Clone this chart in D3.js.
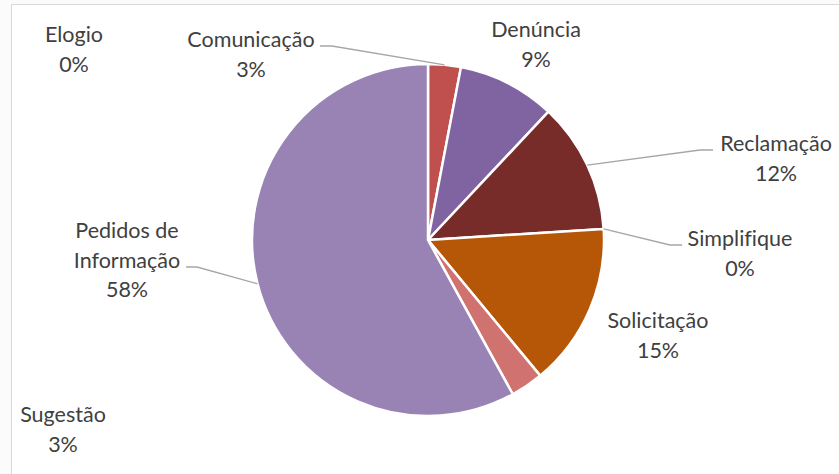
<!DOCTYPE html>
<html>
<head>
<meta charset="utf-8">
<script src="https://cdn.jsdelivr.net/npm/d3@7"></script>
<style>
  html, body { margin: 0; padding: 0; background: #ffffff; }
  svg { display: block; }
  text { font-variant-ligatures: none; }
</style>
</head>
<body>
<svg id="chart" width="839" height="474"></svg>
<script>
// Manifestações por tipo (%)
const categories = ["Elogio", "Comunicação", "Denúncia", "Reclamação", "Simplifique", "Solicitação", "Sugestão", "Pedidos de Informação"];
const values = [0, 3, 9, 12, 0, 15, 3, 58];
const colors = ["#4F81BD", "#C0504D", "#8064A2", "#772C2A", "#9BBB59", "#B65708", "#D07370", "#9983B5"];

// Label placement: text anchor, line breaks, and optional leader elbow
const labelLayout = {
  "Elogio":                { x: 74,  y: 42,  lines: ["Elogio"] },
  "Comunicação":           { x: 251, y: 47,  lines: ["Comunicação"], elbow: [332, 46], end: [320, 46] },
  "Denúncia":              { x: 536, y: 37,  lines: ["Denúncia"] },
  "Reclamação":            { x: 776, y: 151, lines: ["Reclamação"], elbow: [700, 150], end: [713, 150] },
  "Simplifique":           { x: 740, y: 246, lines: ["Simplifique"], elbow: [670, 245], end: [682, 245] },
  "Solicitação":           { x: 658, y: 328, lines: ["Solicitação"] },
  "Sugestão":              { x: 63,  y: 422, lines: ["Sugestão"] },
  "Pedidos de Informação": { x: 127, y: 238, lines: ["Pedidos de", "Informação"], elbow: [197, 267], end: [186, 267] }
};

const data = categories.map((c, i) => ({ name: c, value: values[i], color: colors[i] }));

const svg = d3.select("#chart");
const cx = 428, cy = 240, radius = 176;
const lineH = 29.5;

// Chart frame
svg.append("rect").attr("x", 0).attr("y", 0).attr("width", 839).attr("height", 474).attr("fill", "#fbfbfb");
svg.append("rect").attr("x", 11.5).attr("y", 4.5).attr("width", 840).attr("height", 480)
  .attr("fill", "#ffffff").attr("stroke", "#d9d9d9").attr("stroke-width", 1);

const pie = d3.pie().sort(null).value(d => d.value);
const arcs = pie(data);
const arc = d3.arc().innerRadius(0).outerRadius(radius);

const g = svg.append("g").attr("transform", `translate(${cx},${cy})`);
g.selectAll("path.slice")
  .data(arcs.filter(a => a.data.value > 0))
  .join("path")
  .attr("class", "slice")
  .attr("d", arc)
  .attr("fill", d => d.data.color)
  .attr("stroke", "#ffffff")
  .attr("stroke-width", 2.5)
  .attr("stroke-linejoin", "round");

// Leader lines from the slice's outer edge
const edge = d3.arc().innerRadius(radius).outerRadius(radius);
arcs.forEach(a => {
  const L = labelLayout[a.data.name];
  if (!L.elbow) return;
  const p = edge.centroid(a);
  const pts = [[cx + p[0], cy + p[1]], L.elbow, L.end];
  svg.append("path")
    .attr("d", d3.line()(pts))
    .attr("fill", "none")
    .attr("stroke", "#a6a6a6")
    .attr("stroke-width", 1.3);
});

// Labels: category name plus percentage
const fmt = d => d3.format(".0%")(d / 100);
arcs.forEach(a => {
  const L = labelLayout[a.data.name];
  const t = svg.append("text")
    .attr("text-anchor", "middle")
    .attr("font-family", "Lato, 'Open Sans', sans-serif")
    .attr("font-size", 21.5)
    .attr("fill", "#404040");
  const lines = L.lines.concat([fmt(a.data.value)]);
  lines.forEach((s, i) => {
    t.append("tspan").attr("x", L.x).attr("y", L.y + i * lineH).text(s);
  });
});
</script>
</body>
</html>
